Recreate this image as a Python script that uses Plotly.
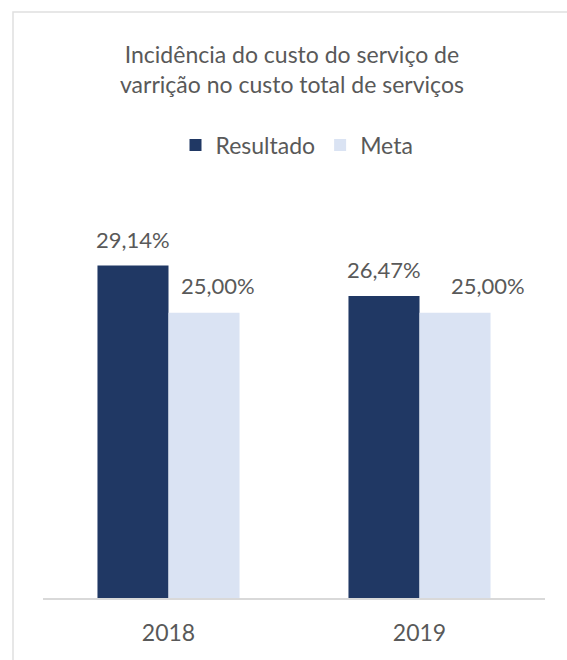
import plotly.graph_objects as go

# Dados do indicador
anos = ["2018", "2019"]
resultado = [29.14, 26.47]
meta = [25.00, 25.00]

titulo = "Incidência do custo do serviço de<br>varrição no custo total de serviços"
serie_resultado = "Resultado"
serie_meta = "Meta"

# Estilo
W, H = 567, 660
FONTE = "Lato"
CINZA = "#595959"
AZUL_ESCURO = "#203864"
AZUL_CLARO = "#dae3f3"
BARGAP = 0.434

# Área de plotagem em pixels
ml, mr, mt, mb = 43, 22, 210, 62
plot_w = W - ml - mr
plot_h = H - mt - mb
y_max = 34.0


def fmt(v):
    return f"{v:.2f}".replace(".", ",") + "%"


def px_x(p):
    return (p - ml) / plot_w


def px_y(p):
    return (H - mb - p) / plot_h


fig = go.Figure()
fig.add_trace(go.Bar(
    x=anos, y=resultado, name=serie_resultado,
    marker=dict(color=AZUL_ESCURO, line=dict(width=0)),
))
fig.add_trace(go.Bar(
    x=anos, y=meta, name=serie_meta,
    marker=dict(color=AZUL_CLARO, line=dict(width=0)),
))

# Rótulos de dados sobre cada barra
desloc = (1 - BARGAP) / 4
xshift_meta = [14, 33]
for i, ano in enumerate(anos):
    fig.add_annotation(
        x=i - desloc, y=resultado[i], xref="x", yref="y",
        text=fmt(resultado[i]), showarrow=False,
        yanchor="middle", yshift=26,
        font=dict(family=FONTE, size=22, color=CINZA),
    )
    fig.add_annotation(
        x=i + desloc, y=meta[i], xref="x", yref="y",
        text=fmt(meta[i]), showarrow=False,
        yanchor="middle", yshift=27, xshift=xshift_meta[i],
        font=dict(family=FONTE, size=22, color=CINZA),
    )

# Título do gráfico
fig.add_annotation(
    x=px_x(292), y=px_y(69), xref="paper", yref="paper",
    text=titulo, showarrow=False, align="center",
    xanchor="center", yanchor="middle",
    font=dict(family=FONTE, size=23, color=CINZA),
)

# Moldura do gráfico
fig.add_shape(
    type="rect", xref="paper", yref="paper",
    x0=px_x(13), x1=1.2, y0=-0.3, y1=px_y(12),
    line=dict(color="#e0e0e0", width=1.5), fillcolor="rgba(0,0,0,0)",
    layer="below",
)

fig.update_layout(
    width=W, height=H,
    margin=dict(l=ml, r=mr, t=mt, b=mb),
    paper_bgcolor="white", plot_bgcolor="white",
    barmode="group", bargap=BARGAP, bargroupgap=0,
    font=dict(family=FONTE, color=CINZA),
    legend=dict(
        orientation="h", xref="paper", yref="paper",
        x=px_x(297), xanchor="center",
        y=px_y(145), yanchor="middle",
        font=dict(family=FONTE, size=23, color=CINZA),
        itemwidth=30, bgcolor="rgba(0,0,0,0)",
    ),
    showlegend=True,
    xaxis=dict(
        type="category", showgrid=False, zeroline=False,
        showline=True, linecolor="#d9d9d9", linewidth=1.5,
        ticks="", ticklabelstandoff=14,
        tickfont=dict(family=FONTE, size=23, color=CINZA),
    ),
    yaxis=dict(
        range=[0, y_max], visible=False, showgrid=False, zeroline=False,
    ),
)

fig.write_html("out.html")
